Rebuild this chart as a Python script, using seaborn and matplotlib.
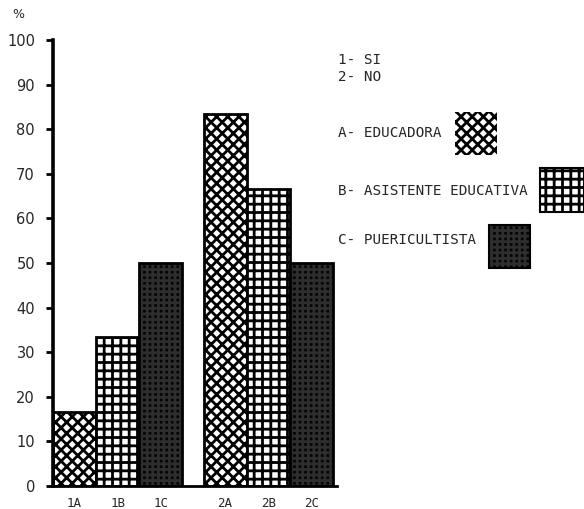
import matplotlib
matplotlib.use("Agg")
import matplotlib.pyplot as plt
from matplotlib.patches import Rectangle
import matplotlib.colors as mcolors
import seaborn as sns
import pandas as pd

# ---- data ----
categories = ["1A", "1B", "1C", "2A", "2B", "2C"]
answer_group = [0, 0, 0, 1, 1, 1]          # 1- SI, 2- NO
role_index = [0, 1, 2, 0, 1, 2]            # A, B, C
values = [16.7, 33.3, 50.0, 83.3, 66.7, 50.0]
yticks = [0, 10, 20, 30, 40, 50, 60, 70, 80, 90, 100]
answer_labels = ["1- SI", "2- NO"]
role_labels = ["A- EDUCADORA", "B- ASISTENTE EDUCATIVA", "C- PUERICULTISTA"]

sns.set_theme(style="white")
plt.rcParams["font.family"] = ["DejaVu Sans"]
plt.rcParams["hatch.linewidth"] = 2.0

W, H = 584, 509
fig = plt.figure(figsize=(W / 100, H / 100), dpi=100)

def fx(px):
    return px / W

def fy(py):
    return 1 - py / H

ax = fig.add_axes([fx(53), fy(486), fx(337) - fx(53), fy(40) - fy(486)])

gap = 0.5
positions = [g * (3 + gap) + r + 0.5 for g, r in zip(answer_group, role_index)]
df = pd.DataFrame({"pos": positions, "value": values, "cat": categories})

sns.barplot(data=df, x="pos", y="value", native_scale=True, width=1.0,
            color="white", edgecolor="black", linewidth=2.0, errorbar=None,
            saturation=1, ax=ax)

hatches = ["xxx", "++", "+++"]

def style_patch(p, r):
    p.set_hatch(hatches[r])
    if r == 2:
        p.set_facecolor("#050505")
        p.set_edgecolor("black")
        col = mcolors.to_rgba("#2e2e2e")
        if hasattr(p, "set_hatchcolor"):
            p.set_hatchcolor(col)
        else:
            p._hatch_color = col
    else:
        p.set_facecolor("white")
        p.set_edgecolor("black")

for p, r in zip(ax.patches, role_index):
    style_patch(p, r)

ax.set_xlim(0, 6.6)
ax.set_ylim(0, 100)
ax.set_xticks(positions)
ax.set_xticklabels(categories, fontsize=9, family="DejaVu Sans Mono")
ax.set_yticks(yticks)
ax.set_yticklabels([str(v) for v in yticks], fontsize=10.5)
ax.set_xlabel("")
ax.set_ylabel("")
for s in ["top", "right"]:
    ax.spines[s].set_visible(False)
ax.spines["left"].set_linewidth(2.6)
ax.spines["bottom"].set_linewidth(2.0)
ax.spines["left"].set_color("black")
ax.spines["bottom"].set_color("black")
ax.tick_params(axis="y", direction="out", length=5, width=2, color="black",
               left=True, pad=8)
ax.tick_params(axis="x", length=0, pad=8)

fig.text(fx(12), fy(14), "%", fontsize=9, va="center", ha="left")

# ---- key ----
kfont = dict(fontsize=10.3, va="center", family="DejaVu Sans Mono")
fig.text(fx(338), fy(60), answer_labels[0], **kfont)
fig.text(fx(338), fy(77), answer_labels[1], **kfont)

text_y = [133, 191, 240]
swatches = [(455, 112, 42, 43), (540, 168, 44, 44), (489, 225, 41, 43)]
for r, (lab, ty, (sx, sy, sw, sh)) in enumerate(zip(role_labels, text_y, swatches)):
    fig.text(fx(338), fy(ty), lab, **kfont)
    rect = Rectangle((fx(sx), fy(sy + sh)), fx(sw), sh / H,
                     transform=fig.transFigure, facecolor="white",
                     edgecolor="black", linewidth=1.5)
    style_patch(rect, r)
    if r == 0:
        rect.set_linewidth(0)
    fig.add_artist(rect)

fig.savefig("out.png", dpi=100)
